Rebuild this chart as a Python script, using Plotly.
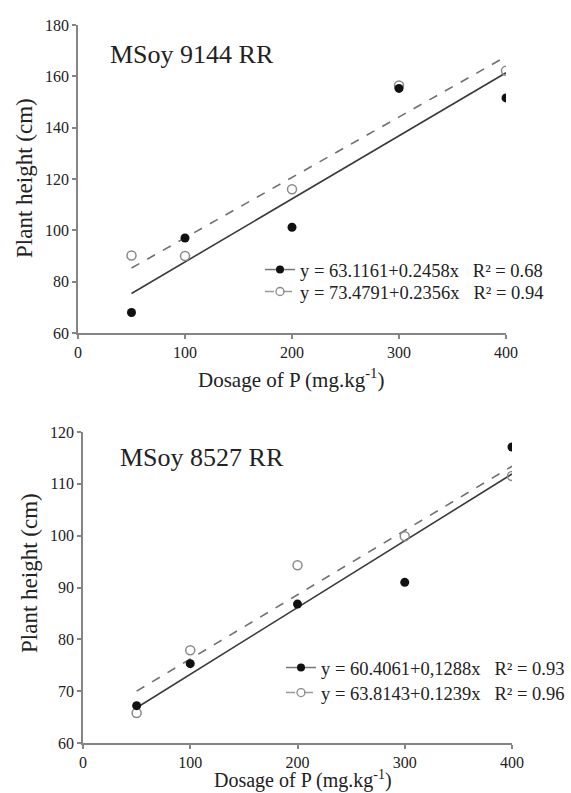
import plotly.graph_objects as go

# ---------------- data ----------------
dose = [50, 100, 200, 300, 400]

# MSoy 9144 RR
top_filled = [68.0, 97.0, 101.2, 155.3, 151.6]
top_open = [90.2, 90.0, 116.0, 156.4, 162.2]
top_fit_x = [50, 400]
top_fit_filled = [75.4, 161.4]
top_fit_open = [85.3, 167.7]
top_eq_filled = "y = 63.1161+0.2458x\u00a0\u00a0\u00a0R\u00b2 = 0.68"
top_eq_open = "y = 73.4791+0.2356x\u00a0\u00a0\u00a0R\u00b2 = 0.94"

# MSoy 8527 RR
bot_filled = [67.2, 75.3, 86.8, 91.0, 117.1]
bot_open = [65.8, 77.9, 94.3, 99.9, 111.5]
bot_fit_x = [50, 400]
bot_fit_filled = [66.8, 111.9]
bot_fit_open = [70.0, 113.4]
bot_eq_filled = "y = 60.4061+0,1288x\u00a0\u00a0\u00a0R\u00b2 = 0.93"
bot_eq_open = "y = 63.8143+0.1239x\u00a0\u00a0\u00a0R\u00b2 = 0.96"

x_ticks = [0, 100, 200, 300, 400]
top_y_ticks = [60, 80, 100, 120, 140, 160, 180]
bot_y_ticks = [60, 70, 80, 90, 100, 110, 120]

FONT = "Liberation Serif"
TXT = "#222222"
AX = "#858585"
SOLID = "#3a3a3a"
DASH = "#707070"
FILLED = "#111111"
OPEN = "#8a8a8a"

W, H = 571, 793

fig = go.Figure()


def add_panel(xa, ya, legs, filled, opened, fx, ff, fo, eq_f, eq_o):
    fig.add_trace(go.Scatter(x=fx, y=ff, mode="lines", xaxis=xa, yaxis=ya,
                             line=dict(color=SOLID, width=1.6), showlegend=False))
    fig.add_trace(go.Scatter(x=fx, y=fo, mode="lines", xaxis=xa, yaxis=ya,
                             line=dict(color=DASH, width=1.6, dash="dash"), showlegend=False))
    fig.add_trace(go.Scatter(x=dose, y=opened, mode="markers", xaxis=xa, yaxis=ya,
                             marker=dict(symbol="circle-open", size=9, color=OPEN,
                                         line=dict(width=1.5, color=OPEN)),
                             showlegend=False))
    fig.add_trace(go.Scatter(x=dose, y=filled, mode="markers", xaxis=xa, yaxis=ya,
                             marker=dict(symbol="circle", size=9, color=FILLED),
                             showlegend=False))
    fig.add_trace(go.Scatter(x=[None], y=[None], mode="lines+markers", xaxis=xa, yaxis=ya,
                             name=eq_f, legend=legs[0],
                             line=dict(color="#777777", width=1.5),
                             marker=dict(symbol="circle", size=8, color=FILLED)))
    fig.add_trace(go.Scatter(x=[None], y=[None], mode="lines+markers", xaxis=xa, yaxis=ya,
                             name=eq_o, legend=legs[1],
                             line=dict(color="#9a9a9a", width=1.5, dash="dash"),
                             marker=dict(symbol="circle-open", size=8, color=OPEN,
                                         line=dict(width=1.3, color=OPEN))))


add_panel("x", "y", ["legend", "legend2"], top_filled, top_open, top_fit_x,
          top_fit_filled, top_fit_open, top_eq_filled, top_eq_open)
add_panel("x2", "y2", ["legend3", "legend4"], bot_filled, bot_open, bot_fit_x,
          bot_fit_filled, bot_fit_open, bot_eq_filled, bot_eq_open)

axis_common = dict(showline=True, linecolor=AX, linewidth=1.8, ticks="outside",
                   tickcolor=AX, tickwidth=1.5, ticklen=4, showgrid=False, zeroline=False,
                   automargin=False,
                   tickfont=dict(family=FONT, size=16, color=TXT))


def leg(x_px, y_center_px, anchor="left"):
    return dict(x=x_px / W, y=1 - y_center_px / H, xanchor=anchor, yanchor="middle",
                bgcolor="rgba(0,0,0,0)", font=dict(family=FONT, size=18.5, color=TXT),
                itemwidth=30)


fig.update_layout(
    width=W, height=H,
    margin=dict(l=0, r=0, t=0, b=0),
    paper_bgcolor="white", plot_bgcolor="white",
    font=dict(family=FONT, color=TXT),
    xaxis=dict(domain=[78 / W, 506 / W], anchor="y", range=[0, 400],
               tickvals=x_ticks, **axis_common),
    yaxis=dict(domain=[1 - 333 / H, 1 - 25 / H], anchor="x", range=[60, 180],
               tickvals=top_y_ticks, **axis_common),
    xaxis2=dict(domain=[83 / W, 512 / W], anchor="y2", range=[0, 400],
                tickvals=x_ticks, **axis_common),
    yaxis2=dict(domain=[1 - 743 / H, 1 - 432 / H], anchor="x2", range=[60, 120],
                tickvals=bot_y_ticks, **axis_common),
    legend=leg(260, 270),
    legend2=leg(260, 292),
    legend3=leg(W - 1, 668, "right"),
    legend4=leg(W - 1, 693, "right"),
    showlegend=True,
)

annots = [
    dict(text="MSoy 9144 RR", x=108 / W, y=1 - 55 / H, xanchor="left", yanchor="middle",
         font=dict(size=26)),
    dict(text="MSoy 8527 RR", x=118 / W, y=1 - 457 / H, xanchor="left", yanchor="middle",
         font=dict(size=26)),
    dict(text="Dosage of P (mg.kg<sup>-1</sup>)", x=291 / W, y=1 - 378 / H,
         xanchor="center", yanchor="middle", font=dict(size=21)),
    dict(text="Dosage of P (mg.kg<sup>-1</sup>)", x=303 / W, y=1 - 779 / H,
         xanchor="center", yanchor="middle", font=dict(size=20)),
    dict(text="Plant height (cm)", x=24 / W, y=1 - 178 / H, textangle=-90,
         xanchor="center", yanchor="middle", font=dict(size=23)),
    dict(text="Plant height (cm)", x=29 / W, y=1 - 573 / H, textangle=-90,
         xanchor="center", yanchor="middle", font=dict(size=23)),
]
for a in annots:
    a.update(xref="paper", yref="paper", showarrow=False)
    a["font"].update(family=FONT, color=TXT)
    fig.add_annotation(**a)

fig.write_html("out.html")
